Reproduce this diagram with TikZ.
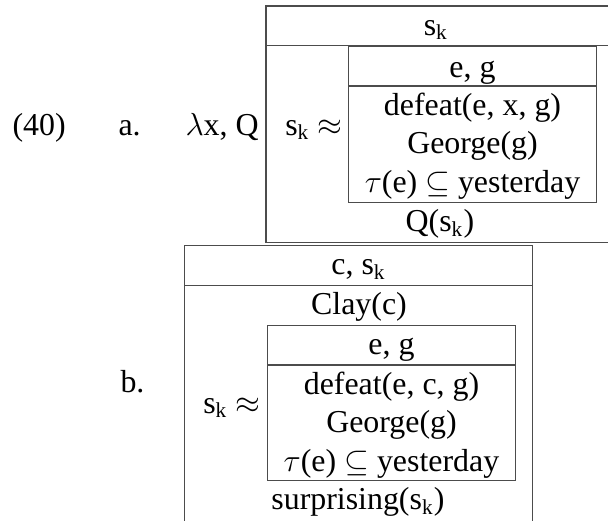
\documentclass[tikz,border=0pt]{standalone}
\usepackage{fontspec}
\setmainfont{Liberation Serif}
\newcommand{\sk}{s\textsubscript{k}}
\begin{document}
\begin{tikzpicture}[x=0.3762pt,y=-0.3762pt,
  box/.style={draw=black!70, line width=0.55pt},
  txt/.style={anchor=base, inner sep=0pt, font=\fontsize{12}{14.4}\selectfont}]
\useasboundingbox (0,0) rectangle (608,520);
% box a
\draw[box] (266,6) rectangle (612,242.3);
\draw[box] (266,45.3) -- (612,45.3);
\draw[box] (348.3,46.7) rectangle (596.7,202.7);
\draw[box] (348.3,86) -- (596.7,86);
% box b
\draw[box] (184.7,245.7) rectangle (532.7,526);
\draw[box] (184.7,285.7) -- (532.7,285.7);
\draw[box] (267.3,325.7) rectangle (515.7,480.7);
\draw[box] (267.3,365) -- (515.7,365);
% texts a
\node[txt] (ahead) at (436,35) {\sk};
\node[txt] (aeg) at (472.5,77) {e, g};
\node[txt] (adef) at (472.5,115) {defeat(e, x, g)};
\node[txt] (ageo) at (472.5,153.5) {George(g)};
\node[txt] (atau) at (472.5,192) {$\tau$(e) $\subseteq$ yesterday};
\node[txt] (aq) at (440,231.7) {Q(\sk)};
\node[txt, anchor=base east] (asim) at (343,135) {\sk{} $\approx$};
\node[txt, anchor=base west] (alam) at (185,135) {$\lambda$x, Q};
\node[txt, anchor=base west] (num) at (12,135) {(40)};
\node[txt, anchor=base west] (la) at (118,135) {a.};
% texts b
\node[txt] (bhead) at (358.7,274.7) {c, \sk};
\node[txt] (bclay) at (359,314.7) {Clay(c)};
\node[txt] (beg) at (391.5,354.7) {e, g};
\node[txt] (bdef) at (391.5,394) {defeat(e, c, g)};
\node[txt] (bgeo) at (391.5,432.5) {George(g)};
\node[txt] (btau) at (391.5,471) {$\tau$(e) $\subseteq$ yesterday};
\node[txt] (bsur) at (358,509.7) {surprising(\sk)};
\node[txt, anchor=base east] (bsim) at (261,413) {\sk{} $\approx$};
\node[txt, anchor=base west] (lb) at (120,392) {b.};
\end{tikzpicture}
\end{document}
